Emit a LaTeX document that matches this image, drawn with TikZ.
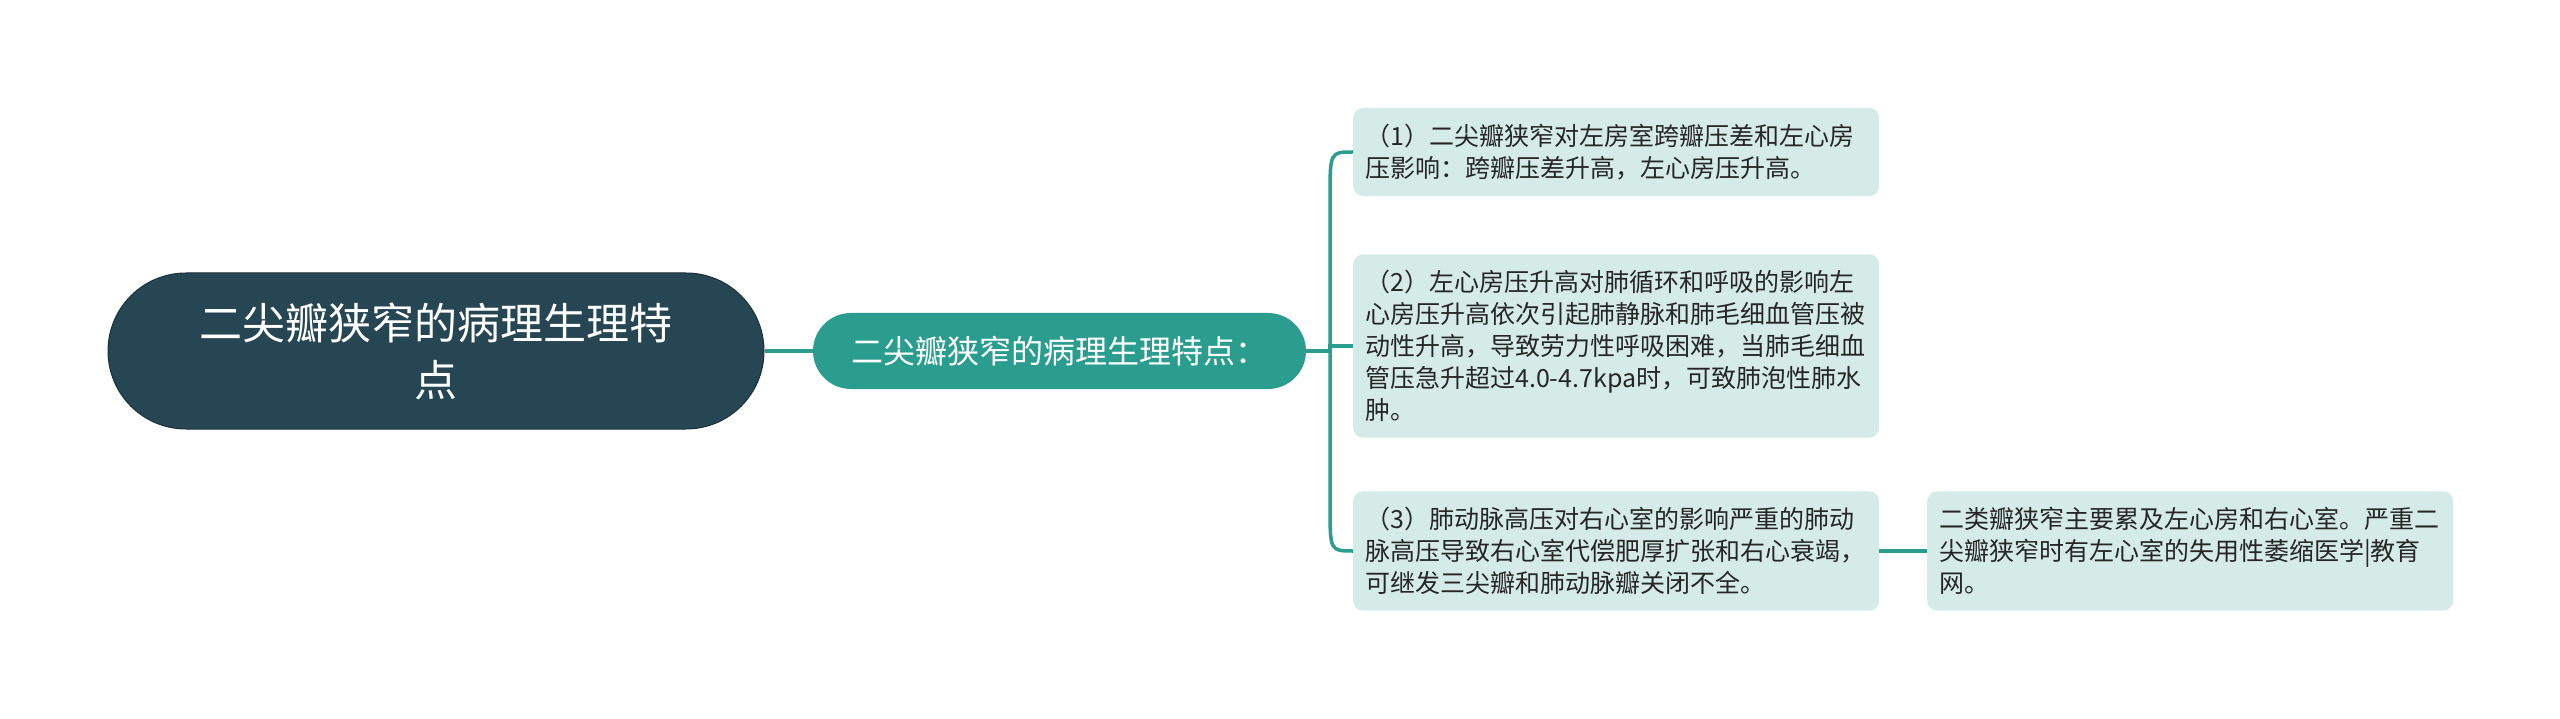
\documentclass[tikz,border=0pt]{standalone}
\usepackage{fontspec}
\setmainfont{Noto Sans CJK SC}
\definecolor{rootcol}{HTML}{264653}
\definecolor{mapteal}{HTML}{2A9D8F}
\definecolor{leafcol}{HTML}{D5EBE8}

\begin{document}
\begin{tikzpicture}[x=1pt, y=-1pt,
  rootbox/.style={draw=rootcol!70!black, line width=1pt, fill=rootcol, text=white, rounded corners=78pt,
    minimum width=656pt, minimum height=156pt, align=center, font=\fontsize{43}{57}\selectfont},
  subbox/.style={fill=mapteal, text=white, rounded corners=38pt,
    minimum width=493pt, minimum height=76pt, font=\fontsize{32}{38}\selectfont},
  leafbox/.style={fill=leafcol, text=black!85, rounded corners=10pt, anchor=west,
    text width=502pt, inner xsep=12pt, inner ysep=16pt, align=left, font=\fontsize{25}{32}\selectfont},
  link/.style={draw=mapteal, line width=3.5pt}]

\useasboundingbox (0,0) rectangle (2560,719);

% main topic and branch
\node[rootbox] (root) at (436,351) {二尖瓣狭窄的病理生理特\\点};
\node[subbox] (sub) at (1059.5,351) {二尖瓣狭窄的病理生理特点：};

% the three points
\node[leafbox] (pt1) at (1353,152) {（1）二尖瓣狭窄对左房室跨瓣压差和左心房\\压影响：跨瓣压差升高，左心房压升高。};
\node[leafbox] (pt2) at (1353,346) {（2）左心房压升高对肺循环和呼吸的影响左\\心房压升高依次引起肺静脉和肺毛细血管压被\\动性升高，导致劳力性呼吸困难，当肺毛细血\\管压急升超过4.0-4.7kpa时，可致肺泡性肺水\\肿。};
\node[leafbox] (pt3) at (1353,551) {（3）肺动脉高压对右心室的影响严重的肺动\\脉高压导致右心室代偿肥厚扩张和右心衰竭，\\可继发三尖瓣和肺动脉瓣关闭不全。};
\node[leafbox] (note) at (1927,551) {二类瓣狭窄主要累及左心房和右心室。严重二\\尖瓣狭窄时有左心室的失用性萎缩医学|教育\\网。};

% connectors
\coordinate (fork) at (1330,351);
\draw[link] (root.east) -- (sub.west);
\draw[link] (sub.east) -- (fork);
\draw[link] (fork) -- ([yshift=-46pt]fork |- pt1.west) .. controls (fork |- pt1.west) .. (pt1.west);
\draw[link] (fork) |- (pt2.west);
\draw[link] (fork) -- ([yshift=46pt]fork |- pt3.west) .. controls (fork |- pt3.west) .. (pt3.west);
\draw[link] (pt3.east) -- (note.west);

\end{tikzpicture}
\end{document}
